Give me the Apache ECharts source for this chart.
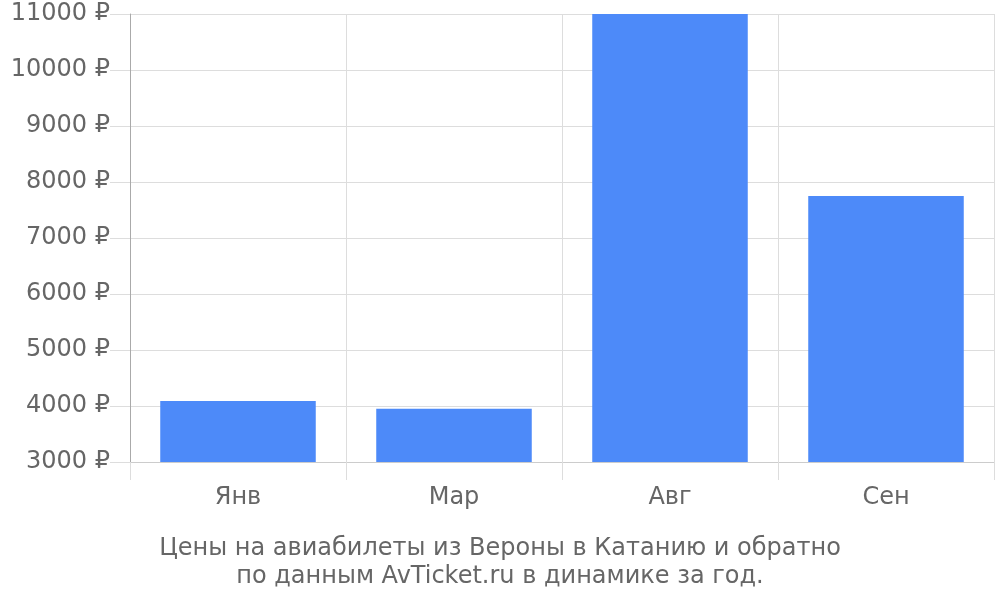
<!DOCTYPE html>
<html><head><meta charset="utf-8">
<script src="https://cdn.jsdelivr.net/npm/echarts@6/dist/echarts.min.js"></script>
<style>html,body{margin:0;padding:0;background:#fff}#c{width:1000px;height:600px}</style>
</head><body><div id="c"></div>
<script>
const categories = ['Янв', 'Мар', 'Авг', 'Сен'];
const prices = [4090, 3950, 11000, 7750];
const yMin = 3000, yMax = 11000, yStep = 1000;
const titleLines = ['Цены на авиабилеты из Вероны в Катанию и обратно', 'по данным AvTicket.ru в динамике за год.'];

const font = 'DejaVu Sans';
const fs = 24;
const chart = echarts.init(document.getElementById('c'));
chart.setOption({
  animation: false,
  textStyle: {fontFamily: font},
  title: {
    text: titleLines.join('\n'), left: 'center', top: 530,
    textStyle: {fontFamily: font, fontSize: fs, fontWeight: 'normal', color: '#666', lineHeight: 28}
  },
  grid: {left: 130, right: 6, top: 14, bottom: 138},
  xAxis: {
    type: 'category', data: categories,
    axisLine: {lineStyle: {color: '#ccc', width: 1}},
    axisTick: {show: true, length: 18, lineStyle: {color: '#ddd'}},
    splitLine: {show: true, lineStyle: {color: '#ddd'}},
    axisLabel: {fontFamily: font, fontSize: fs, color: '#666', margin: 24}
  },
  yAxis: {
    type: 'value', min: yMin, max: yMax, interval: yStep,
    axisLine: {show: true, lineStyle: {color: '#aaa'}},
    axisTick: {show: true, length: 20, lineStyle: {color: '#ddd'}},
    splitLine: {lineStyle: {color: '#ddd'}},
    axisLabel: {fontFamily: font, fontSize: fs, color: '#666', margin: 20, formatter: v => v + ' ₽'}
  },
  series: [{
    type: 'bar', data: prices, barWidth: '72%',
    itemStyle: {color: '#4d8af9'}
  }]
});
</script></body></html>
